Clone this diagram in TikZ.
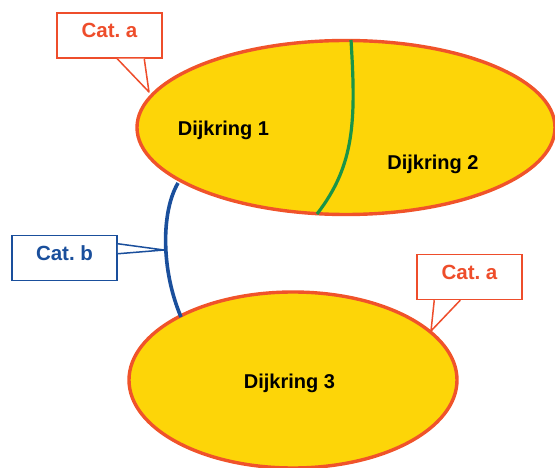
\documentclass[tikz,border=0pt]{standalone}
\usepackage{fontspec}
\setmainfont{Liberation Sans}
\usetikzlibrary{shapes.geometric,calc}

\definecolor{dikefill}{HTML}{FDD508}
\definecolor{dikeedge}{HTML}{F0532A}
\definecolor{catred}{HTML}{EE4D2B}
\definecolor{catblue}{HTML}{1A4F9C}
\definecolor{seamgreen}{HTML}{1A9448}

\tikzset{
  dike/.style={ellipse, draw=dikeedge, fill=dikefill, line width=3.4pt, inner sep=0pt},
  dikelabel/.style={anchor=base, font=\fontsize{20}{22}\selectfont\bfseries, text=black, inner sep=0pt},
  callbox/.style={draw, fill=white, line width=1.5pt, minimum width=105pt, minimum height=45pt,
    inner sep=0pt, text height=10pt, text depth=5pt, font=\fontsize{20.5}{22}\selectfont\bfseries},
  redcall/.style={callbox, draw=catred, text=catred},
  bluecall/.style={callbox, draw=catblue, text=catblue},
  pointer/.style={line width=1.5pt, line join=round},
}

\frenchspacing
\begin{document}
\begin{tikzpicture}[x=1pt,y=-1pt]
  \useasboundingbox (0,0) rectangle (555,468);
  \clip (0,0) rectangle (555,468);

  % the two dike rings
  \node[dike, minimum width=418pt, minimum height=174pt] (ring12) at (346,127.5) {};
  \node[dike, minimum width=328pt, minimum height=176pt] (ring3) at (293,380) {};

  % boundary between ring 1 and ring 2
  \coordinate (gtop) at (351,40);
  \coordinate (gbot) at (317,214);
  \draw[seamgreen, line width=3.2pt] (gtop) .. controls (356,120) and (355,165) .. (gbot);

  % connection between ring 1 and ring 3
  \coordinate (btop) at (178,183);
  \coordinate (bbot) at (181,317);
  \draw[catblue, line width=3.6pt] (btop) .. controls (161,212) and (161,270) .. (bbot);

  \node[dikelabel] (d1) at (223.5,136) {Dijkring 1};
  \node[dikelabel] (d2) at (433,169.5) {Dijkring 2};
  \node[dikelabel] (d3) at (289.5,388) {Dijkring 3};

  % callouts
  \node[redcall] (ca1) at (109.5,35.5) {Cat. a};
  \coordinate (ca1tip) at (149,92);
  \fill[white] ($(ca1.south west)+(61,0)$) -- (ca1tip) -- ($(ca1.south west)+(88,0)$) -- cycle;
  \draw[pointer, catred]
    ($(ca1.south west)+(61,0)$) -- (ca1tip) -- ($(ca1.south west)+(88,0)$);

  \node[bluecall] (cb) at (64.5,258) {Cat. b};
  \coordinate (cbtip) at (164,250);
  \fill[white] ($(cb.north east)+(0,9)$) -- (cbtip) -- ($(cb.north east)+(0,19)$) -- cycle;
  \draw[pointer, catblue]
    ($(cb.north east)+(0,9)$) -- (cbtip) -- ($(cb.north east)+(0,19)$);

  \node[redcall] (ca3) at (469.5,277) {Cat. a};
  \coordinate (ca3tip) at (431,331);
  \fill[white] ($(ca3.south west)+(18,0)$) -- (ca3tip) -- ($(ca3.south west)+(44,0)$) -- cycle;
  \draw[pointer, catred]
    ($(ca3.south west)+(18,0)$) -- (ca3tip) -- ($(ca3.south west)+(44,0)$);
\end{tikzpicture}
\end{document}
